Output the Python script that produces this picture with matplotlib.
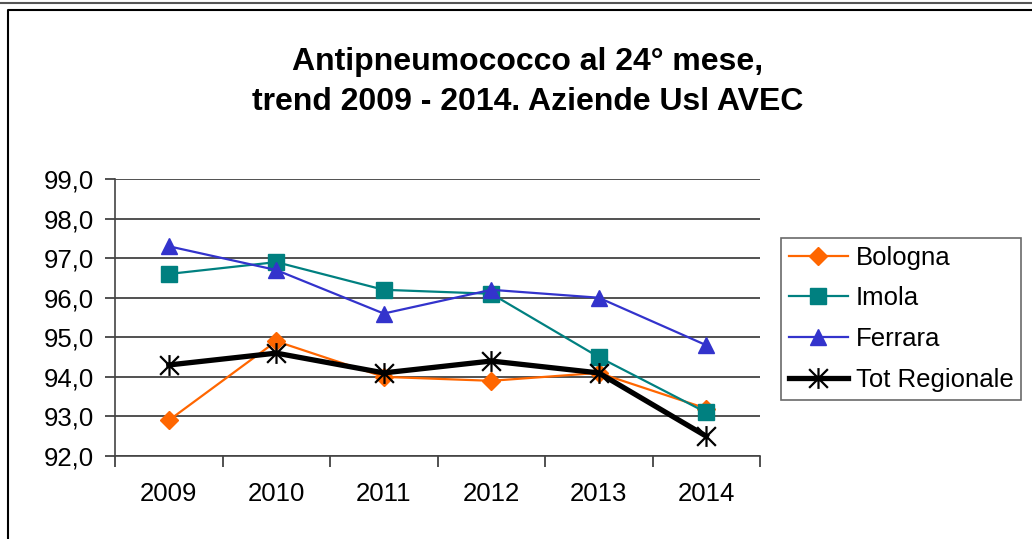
import matplotlib.pyplot as plt
from matplotlib.path import Path
from matplotlib.ticker import FuncFormatter, FixedLocator
from matplotlib.lines import Line2D

plt.rcParams["font.family"] = ["Liberation Sans", "DejaVu Sans"]

years = ["2009", "2010", "2011", "2012", "2013", "2014"]
bologna = [92.9, 94.9, 94.0, 93.9, 94.1, 93.2]
imola = [96.6, 96.9, 96.2, 96.1, 94.5, 93.1]
ferrara = [97.3, 96.7, 95.6, 96.2, 96.0, 94.8]
tot_regionale = [94.3, 94.6, 94.1, 94.4, 94.1, 92.5]

# asterisco stile Excel: linea verticale + X
asterisk = Path(
    [(0, -1), (0, 1), (-0.9, -0.9), (0.9, 0.9), (-0.9, 0.9), (0.9, -0.9)],
    [Path.MOVETO, Path.LINETO, Path.MOVETO, Path.LINETO, Path.MOVETO, Path.LINETO],
)

fig = plt.figure(figsize=(10.32, 5.39), dpi=100)
ax = fig.add_axes([115 / 1032, 1 - 456 / 539, 645 / 1032, 277 / 539])

x = range(len(years))
ax.plot(x, bologna, color="#FF6600", lw=1.6, marker="D", ms=9, label="Bologna")
ax.plot(x, imola, color="#008080", lw=1.6, marker="s", ms=11, label="Imola")
ax.plot(x, ferrara, color="#3333CC", lw=1.6, marker="^", ms=11, label="Ferrara")
ax.plot(x, tot_regionale, color="black", lw=3.8, marker=asterisk, ms=15,
        mew=1.6, label="Tot Regionale")

ax.set_xlim(-0.5, len(years) - 0.5)
ax.set_ylim(92, 99)
ax.set_yticks(range(92, 100))
ax.yaxis.set_major_formatter(FuncFormatter(lambda v, p: f"{v:.1f}".replace(".", ",")))
ax.set_xticks(list(x))
ax.set_xticklabels(years)
ax.xaxis.set_minor_locator(FixedLocator([i - 0.5 for i in range(len(years) + 1)]))
ax.tick_params(axis="x", which="major", length=0, pad=19, labelsize=18.5)
ax.tick_params(axis="x", which="minor", length=8, width=1.2, color="#333333", direction="out")
ax.tick_params(axis="y", length=7, width=1.2, color="#333333", labelsize=18.5, pad=8)

ax.grid(axis="y", color="#333333", lw=1.2)
ax.set_axisbelow(True)
for side in ["top", "right"]:
    ax.spines[side].set_visible(False)
for side in ["left", "bottom"]:
    ax.spines[side].set_color("#444444")
    ax.spines[side].set_linewidth(1.2)

fig.text(528 / 1032, 1 - 82 / 539,
         "Antipneumococco al 24° mese,\ntrend 2009 - 2014. Aziende Usl AVEC",
         ha="center", va="center", fontsize=23, fontweight="bold", linespacing=1.4)

leg = fig.legend(loc="upper left", bbox_to_anchor=(781 / 1032, 1 - 238 / 539),
                 fontsize=18.5, frameon=True, fancybox=False, edgecolor="#444444",
                 handlelength=2.3, handletextpad=0.3, labelspacing=0.65,
                 borderpad=0.3, borderaxespad=0)
leg.get_frame().set_linewidth(1.2)

# cornice esterna
fig.add_artist(Line2D([0, 1], [1 - 3 / 539, 1 - 3 / 539], color="#555555", lw=1.5))
fig.add_artist(Line2D([8 / 1032, 8 / 1032, 1], [0, 1 - 10 / 539, 1 - 10 / 539],
                      color="black", lw=1.5))

fig.savefig("out.png", dpi=100)
